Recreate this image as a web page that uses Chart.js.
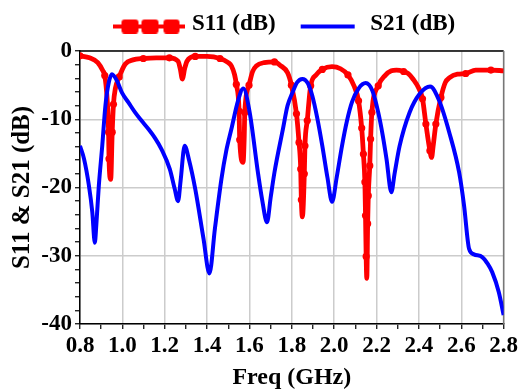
<!DOCTYPE html>
<html><head><meta charset="utf-8">
<script src="https://cdn.jsdelivr.net/npm/chart.js@4.4.0/dist/chart.umd.min.js"></script>
<style>html,body{margin:0;padding:0;background:#fff}</style>
</head><body>
<canvas id="c" width="521" height="390" style="width:521px;height:390px;display:block"></canvas>
<script>
// ---- data ----
const s21Freq = [0.80,0.819,0.842,0.858,0.870,0.877,0.889,0.905,0.920,0.936,0.951,0.975,0.998,1.03,1.06,1.09,1.122,1.155,1.185,1.224,1.247,1.263,1.275,1.294,1.315,1.344,1.383,1.411,1.437,1.468,1.49,1.515,1.546,1.571,1.601,1.640,1.66,1.683,1.70,1.718,1.757,1.78,1.803,1.825,1.85,1.875,1.897,1.92,1.944,1.968,1.99,2.012,2.037,2.06,2.084,2.115,2.149,2.18,2.208,2.23,2.247,2.27,2.285,2.309,2.356,2.403,2.453,2.496,2.543,2.59,2.613,2.637,2.66,2.699,2.725,2.746,2.777,2.80];
const s21Db   = [-13.9,-15.8,-19.7,-23.6,-28.1,-25.5,-19.7,-13.9,-8.0,-4.6,-3.4,-4.4,-6.1,-7.6,-9.0,-10.2,-11.4,-12.8,-14.4,-17.3,-20.2,-22.0,-19.0,-13.9,-16.0,-20.2,-27.5,-32.6,-26.0,-18.7,-14.7,-11.4,-7.3,-5.5,-9.0,-17.8,-21.8,-25.1,-21.5,-17.8,-11.6,-8.0,-6.1,-4.6,-4.1,-4.7,-6.6,-9.8,-13.9,-18.5,-22.1,-18.5,-13.9,-10.3,-7.5,-5.5,-4.7,-5.8,-9.0,-12.5,-15.8,-20.7,-18.0,-13.9,-9.0,-6.3,-5.2,-7.3,-11.9,-17.8,-22.6,-29.0,-29.8,-30.2,-31.2,-32.4,-35.3,-38.7];

const s11Freq = [0.80,0.845,0.884,0.908,0.917,0.928,0.935,0.937,0.945,0.952,0.958,0.967,0.985,1.014,1.05,1.099,1.16,1.222,1.263,1.274,1.283,1.294,1.305,1.344,1.40,1.461,1.50,1.515,1.530,1.538,1.551,1.554,1.570,1.575,1.578,1.598,1.615,1.632,1.67,1.718,1.745,1.78,1.798,1.822,1.834,1.842,1.845,1.850,1.859,1.862,1.873,1.889,1.915,1.944,1.99,2.03,2.065,2.095,2.115,2.130,2.138,2.145,2.148,2.151,2.154,2.158,2.161,2.168,2.172,2.178,2.208,2.24,2.27,2.294,2.328,2.35,2.372,2.40,2.417,2.433,2.452,2.460,2.467,2.48,2.504,2.525,2.545,2.582,2.621,2.668,2.70,2.740,2.80];
const s11Db   = [-0.7,-1.0,-1.7,-2.9,-3.6,-7.0,-11.9,-15.8,-18.8,-11.9,-7.8,-5.5,-3.8,-1.9,-1.3,-1.1,-1.0,-1.0,-1.5,-2.7,-4.1,-2.6,-1.5,-0.8,-0.8,-1.1,-1.7,-2.2,-3.5,-4.9,-8.8,-13.0,-16.3,-13.0,-9.0,-5.0,-3.0,-2.2,-1.7,-1.6,-2.1,-3.2,-5.0,-9.2,-13.4,-17.3,-21.8,-24.3,-18.0,-13.9,-10.2,-5.1,-3.5,-2.7,-2.3,-2.6,-3.5,-5.2,-7.3,-11.3,-15.1,-19.2,-24.1,-30.1,-33.3,-25.3,-21.2,-16.8,-12.9,-9.0,-5.1,-3.6,-2.9,-2.8,-3.0,-3.3,-4.1,-5.5,-7.0,-10.7,-14.6,-15.6,-14.0,-10.7,-6.8,-4.6,-3.9,-3.4,-3.3,-2.8,-2.8,-2.8,-2.9];
const s11Marker = [1,0,0,0,1,0,1,1,0,1,1,0,1,0,0,1,0,1,0,0,0,0,0,1,0,1,0,0,0,1,1,1,0,0,1,1,0,0,0,1,0,0,1,1,1,1,1,0,1,1,1,1,0,1,0,0,1,0,1,1,1,1,1,1,0,1,1,1,1,1,1,0,0,0,1,0,0,0,1,1,1,0,0,1,1,0,0,0,1,0,0,1,0];

const seriesNames = ['S11 (dB)', 'S21 (dB)'];
const xTickValues = [0.8,0.9,1.0,1.1,1.2,1.3,1.4,1.5,1.6,1.7,1.8,1.9,2.0,2.1,2.2,2.3,2.4,2.5,2.6,2.7,2.8];
const xLabelValues = [0.8,1.0,1.2,1.4,1.6,1.8,2.0,2.2,2.4,2.6,2.8];
const yTickValues = [-40,-38,-36,-34,-32,-30,-28,-26,-24,-22,-20,-18,-16,-14,-12,-10,-8,-6,-4,-2,0];
const yLabelValues = [-40,-30,-20,-10,0];

// ---- styling ----
const RED = '#ff0000', BLUE = '#0000ff', GRID = '#cccccc';
const FONT = 'Liberation Serif';

function makeS11Icon(){
  const c = document.createElement('canvas'); c.width = 72; c.height = 18;
  const g = c.getContext('2d');
  g.strokeStyle = RED; g.lineWidth = 4; g.beginPath(); g.moveTo(0,11); g.lineTo(72,11); g.stroke();
  g.fillStyle = RED;
  [[8,17],[28,17],[50,16]].forEach(([x,w])=>{ g.beginPath(); g.roundRect(x,4,w,14,3); g.fill(); });
  return c;
}
function makeS21Icon(){
  const c = document.createElement('canvas'); c.width = 72; c.height = 18;
  const g = c.getContext('2d');
  g.strokeStyle = BLUE; g.lineWidth = 4; g.beginPath(); g.moveTo(9,11); g.lineTo(63,11); g.stroke();
  return c;
}
const icons = [makeS11Icon(), makeS21Icon()];

const framePlugin = {
  id: 'frame',
  afterLayout(chart){
    // nudge the legend block to sit where the reference places it
    const lg = chart.legend;
    if (lg) { lg.top -= 5; lg.bottom -= 5; lg.left -= 5; lg.right -= 5; }
  },
  beforeDatasetsDraw(chart){
    const {ctx, chartArea:a} = chart;
    ctx.save();
    ctx.strokeStyle = '#000'; ctx.lineWidth = 1.5;
    ctx.beginPath(); ctx.moveTo(a.left, a.top); ctx.lineTo(a.right, a.top); ctx.stroke();
    ctx.strokeStyle = '#777';
    ctx.beginPath(); ctx.moveTo(a.right, a.top); ctx.lineTo(a.right, a.bottom); ctx.stroke();
    ctx.restore();
  }
};

const isMajorX = v => xLabelValues.some(m => Math.abs(m - v) < 1e-6);
const isMajorY = v => yLabelValues.some(m => Math.abs(m - v) < 1e-6);

new Chart(document.getElementById('c'), {
  type: 'line',
  data: {
    datasets: [
      {
        label: seriesNames[0],
        data: s11Freq.map((f,i)=>({x:f, y:s11Db[i]})),
        borderColor: RED, backgroundColor: RED, borderWidth: 4.8,
        pointRadius: ctx => s11Marker[ctx.dataIndex] ? 3.6 : 0,
        pointBackgroundColor: RED, pointBorderWidth: 0, pointHoverRadius: 0,
        cubicInterpolationMode: 'monotone', order: 1
      },
      {
        label: seriesNames[1],
        data: s21Freq.map((f,i)=>({x:f, y:s21Db[i]})),
        borderColor: BLUE, backgroundColor: BLUE, borderWidth: 4,
        pointRadius: 0, pointHoverRadius: 0,
        cubicInterpolationMode: 'monotone', order: 0
      }
    ]
  },
  options: {
    responsive: false, animation: false, devicePixelRatio: 1,
    layout: { padding: { top: -3, right: 13, bottom: 0, left: 0 } },
    plugins: {
      tooltip: { enabled: false },
      legend: {
        position: 'top', fullSize: false,
        labels: {
          usePointStyle: true, pointStyleWidth: 62, padding: 21, color: '#000',
          font: { family: FONT, size: 23, weight: 'bold' },
          generateLabels: () => seriesNames.map((n,i)=>({
            text: n, pointStyle: icons[i], datasetIndex: i,
            fillStyle: 'rgba(0,0,0,0)', strokeStyle: 'rgba(0,0,0,0)', lineWidth: 0, fontColor: '#000'
          }))
        }
      }
    },
    scales: {
      x: {
        type: 'linear', min: 0.8, max: 2.8,
        afterBuildTicks: s => { s.ticks = xTickValues.map(v => ({value: v})); },
        afterFit: s => { s.height = 66; },
        ticks: {
          autoSkip: false, maxRotation: 0, padding: 3, color: '#000',
          font: { family: FONT, size: 23, weight: 'bold' },
          callback: v => isMajorX(v) ? v.toFixed(1) : ''
        },
        grid: {
          color: c => (c.tick && isMajorX(c.tick.value)) ? GRID : 'rgba(0,0,0,0)',
          lineWidth: 1.5, tickColor: '#000', tickLength: 5, tickWidth: 1.2
        },
        border: { color: '#000', width: 1.5 },
        title: {
          display: true, text: 'Freq (GHz)', color: '#000',
          font: { family: FONT, size: 24, weight: 'bold', lineHeight: 1 }, padding: { top: 0, bottom: 0 }
        }
      },
      y: {
        type: 'linear', min: -40, max: 0,
        afterBuildTicks: s => { s.ticks = yTickValues.map(v => ({value: v})); },
        afterFit: s => { s.width = 80; },
        ticks: {
          autoSkip: false, padding: 3, color: '#000',
          font: { family: FONT, size: 23, weight: 'bold' },
          callback: v => isMajorY(v) ? String(v) : ''
        },
        grid: {
          color: c => (c.tick && isMajorY(c.tick.value)) ? GRID : 'rgba(0,0,0,0)',
          lineWidth: 1.5, tickColor: '#000', tickLength: 5, tickWidth: 1.2
        },
        border: { color: '#000', width: 1.5 },
        title: {
          display: true, text: 'S11 & S21 (dB)', color: '#000',
          font: { family: FONT, size: 25, weight: 'bold' }, padding: { top: 8, bottom: 0 }
        }
      }
    }
  },
  plugins: [framePlugin]
});
</script>
</body></html>
